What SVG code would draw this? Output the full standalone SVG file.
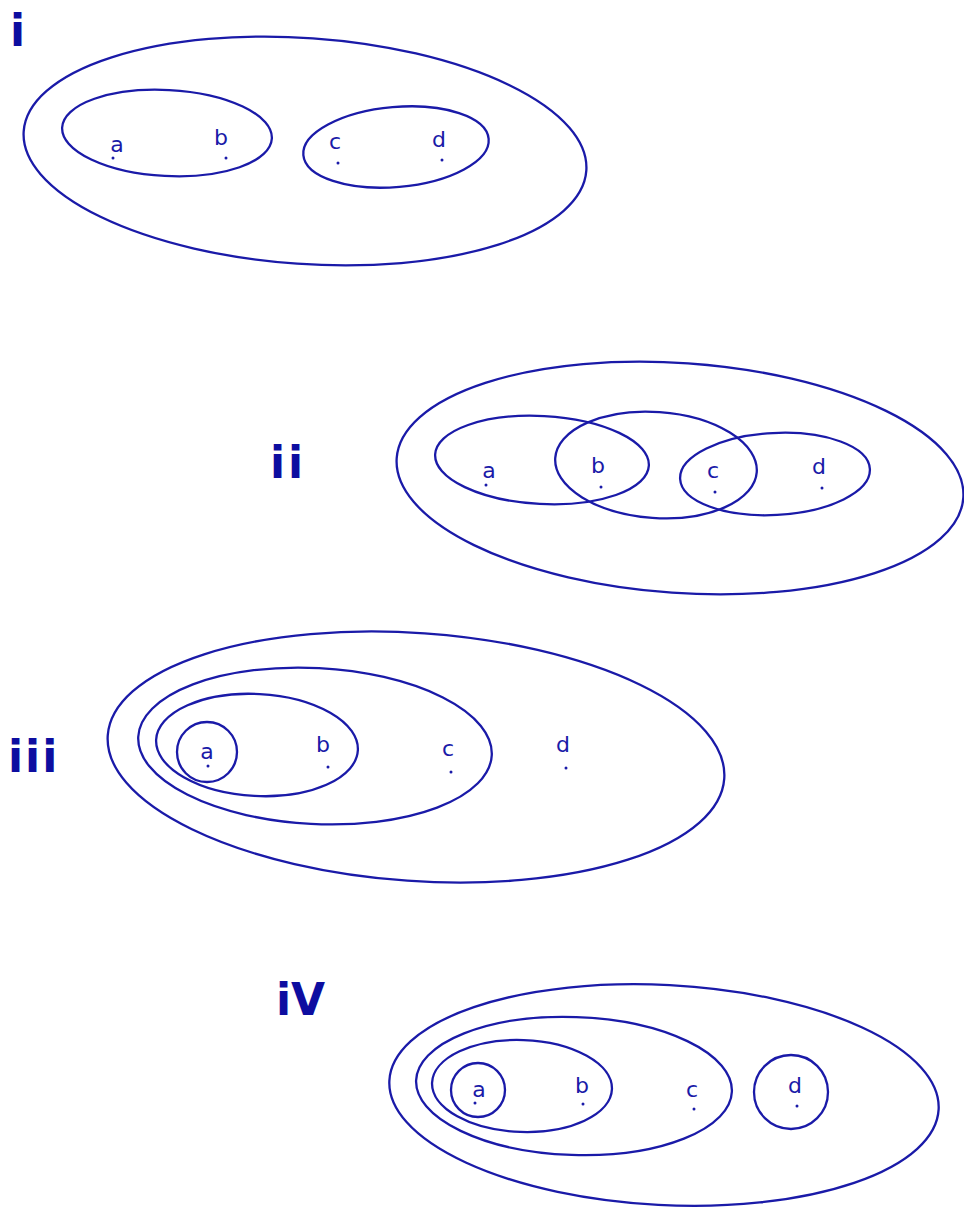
<svg xmlns="http://www.w3.org/2000/svg" width="964" height="1207" viewBox="0 0 964 1207">
<style>
.e{fill:none;stroke:#1a1aa8;stroke-width:2.3}
.l{font-family:"DejaVu Sans",sans-serif;font-size:22px;fill:#1a1aa8;text-anchor:middle}
.d{fill:#1a1aa8}
.n{font-family:"DejaVu Sans",sans-serif;font-weight:bold;font-size:44px;fill:#0d0da0}
</style>
<rect width="964" height="1207" fill="#fff"/>
<g id="diagram-i">
<text class="n" x="10" y="46">i</text>
<ellipse class="e" cx="305" cy="151" rx="282" ry="113" transform="rotate(4 305 151)"/>
<ellipse class="e" cx="167" cy="133" rx="105" ry="43" transform="rotate(3 167 133)"/>
<ellipse class="e" cx="396" cy="147" rx="93" ry="40" transform="rotate(-5 396 147)"/>
<text class="l" x="117" y="152">a</text><circle class="d" cx="113" cy="158" r="1.5"/>
<text class="l" x="221" y="145">b</text><circle class="d" cx="226" cy="158" r="1.5"/>
<text class="l" x="335" y="149">c</text><circle class="d" cx="338" cy="163" r="1.5"/>
<text class="l" x="439" y="147">d</text><circle class="d" cx="442" cy="160" r="1.5"/>
</g>
<g id="diagram-ii">
<text class="n" x="270" y="478" letter-spacing="3">ii</text>
<ellipse class="e" cx="680" cy="478" rx="284" ry="115" transform="rotate(4 680 478)"/>
<ellipse class="e" cx="542" cy="460" rx="107" ry="44" transform="rotate(3 542 460)"/>
<ellipse class="e" cx="656" cy="465" rx="101" ry="53" transform="rotate(4 656 465)"/>
<ellipse class="e" cx="775" cy="474" rx="95" ry="41" transform="rotate(-3 775 474)"/>
<text class="l" x="489" y="478">a</text><circle class="d" cx="486" cy="485" r="1.5"/>
<text class="l" x="598" y="473">b</text><circle class="d" cx="601" cy="487" r="1.5"/>
<text class="l" x="713" y="478">c</text><circle class="d" cx="715" cy="492" r="1.5"/>
<text class="l" x="819" y="474">d</text><circle class="d" cx="822" cy="488" r="1.5"/>
</g>
<g id="diagram-iii">
<text class="n" x="8" y="772" letter-spacing="2">iii</text>
<ellipse class="e" cx="416" cy="757" rx="309" ry="124" transform="rotate(4 416 757)"/>
<ellipse class="e" cx="315" cy="746" rx="177" ry="78" transform="rotate(3 315 746)"/>
<ellipse class="e" cx="257" cy="745" rx="101" ry="51" transform="rotate(3 257 745)"/>
<circle class="e" cx="207" cy="752" r="30"/>
<text class="l" x="207" y="759">a</text><circle class="d" cx="208" cy="766" r="1.5"/>
<text class="l" x="323" y="752">b</text><circle class="d" cx="328" cy="767" r="1.5"/>
<text class="l" x="448" y="756">c</text><circle class="d" cx="451" cy="772" r="1.5"/>
<text class="l" x="563" y="752">d</text><circle class="d" cx="566" cy="768" r="1.5"/>
</g>
<g id="diagram-iv">
<text class="n" x="276" y="1015">iV</text>
<ellipse class="e" cx="664" cy="1095" rx="275" ry="110" transform="rotate(3 664 1095)"/>
<ellipse class="e" cx="574" cy="1086" rx="158" ry="69" transform="rotate(2 574 1086)"/>
<ellipse class="e" cx="522" cy="1086" rx="90" ry="46" transform="rotate(2 522 1086)"/>
<circle class="e" cx="478" cy="1090" r="27"/>
<ellipse class="e" cx="791" cy="1092" rx="37" ry="37"/>
<text class="l" x="479" y="1097">a</text><circle class="d" cx="475" cy="1103" r="1.5"/>
<text class="l" x="582" y="1093">b</text><circle class="d" cx="583" cy="1104" r="1.5"/>
<text class="l" x="692" y="1097">c</text><circle class="d" cx="694" cy="1109" r="1.5"/>
<text class="l" x="795" y="1093">d</text><circle class="d" cx="797" cy="1106" r="1.5"/>
</g>
</svg>
